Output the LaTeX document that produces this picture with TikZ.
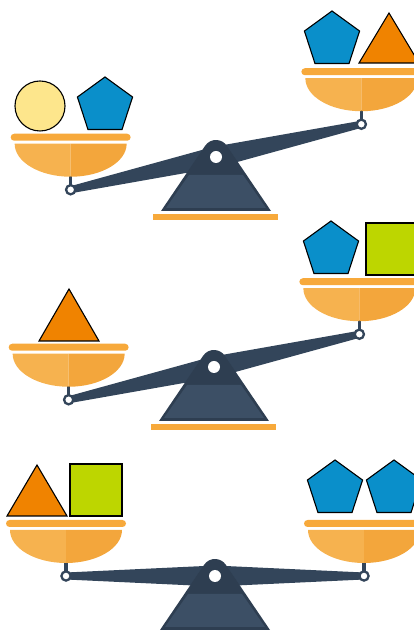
\documentclass[tikz,border=0pt]{standalone}
\usetikzlibrary{shapes.geometric}
\definecolor{slate}{HTML}{33455A}
\definecolor{slatedark}{HTML}{2E3E51}
\definecolor{slatelight}{HTML}{3C4F65}
\definecolor{rimorange}{HTML}{F7A93B}
\definecolor{bowlL}{HTML}{F6B24F}
\definecolor{bowlR}{HTML}{F3A63C}
\definecolor{pentblue}{HTML}{0A8FCA}
\definecolor{triorange}{HTML}{F08300}
\definecolor{sqgreen}{HTML}{BDD600}
\definecolor{circyellow}{HTML}{FDE68C}
\tikzset{
  shapeline/.style={draw=black, line width=1.1pt, line join=miter},
  pent/.style={regular polygon, regular polygon sides=5, minimum size=58pt, inner sep=0pt, outer sep=0pt, shapeline, fill=pentblue},
  pan/.pic={
    \draw[slate, line width=3.5pt] (0,0) -- (0,14);
    \fill[bowlL] (-56pt,46pt) arc[start angle=180, end angle=270, x radius=56pt, y radius=33pt] -- (0,46) -- cycle;
    \fill[bowlR] (0,13) arc[start angle=270, end angle=360, x radius=56pt, y radius=33pt] -- (0,46) -- cycle;
    \fill[rimorange, rounded corners=3.5pt] (-60,49) rectangle (60,56);
    \draw[slate, fill=white, line width=2.3pt] (0,0) circle (4.6pt);
  }
}
\newcommand\drawbalance[4]{%
  \begin{scope}[shift={(#1,#2)}]
    \fill[slate, rotate=#3] (-149,-3.5) -- (0,-10.5) -- (149,-3.5) -- (149,3.5) -- (0,10.5) -- (-149,3.5) -- cycle;
    \fill[slatedark] (-55,-54) -- (-10.8,11.3) arc[start angle=145.9, end angle=34.1, radius=13pt] -- (55,-54) -- cycle;
    \fill[slatelight] (-50,-51) -- (50,-51) -- (27,-18) -- (-27,-18) -- cycle;
    \fill[rimorange] (-63,-57) rectangle (62,-63);
    \coordinate (#4P) at (0,0);
    \coordinate (#4L) at (180+#3:149pt);
    \coordinate (#4R) at (#3:149pt);
    \fill[white] (#4P) circle (6pt);
  \end{scope}
  \pic at (#4L) {pan};
  \pic at (#4R) {pan};
}
\begin{document}
\begin{tikzpicture}[x=1pt, y=1pt]
\useasboundingbox (0,0) rectangle (414,632);
\clip (0,0) rectangle (414,632);

% ---------- balance 1 ----------
\drawbalance{216}{475}{12.7}{a}
\draw[shapeline, fill=circyellow] (40,526) circle (25pt);
\node[pent] (a1) at (105,526) {};
\node[pent] (a2) at (332,592) {};
\draw[shapeline, fill=triorange] (359,569) -- (419,569) -- (389,619) -- cycle;

% ---------- balance 2 ----------
\drawbalance{214}{265}{12.7}{b}
\draw[shapeline, fill=triorange] (39,291) -- (99,291) -- (69,343) -- cycle;
\node[pent] (b1) at (331,382) {};
\draw[shapeline, fill=sqgreen] (366,357) rectangle (418,409);

% ---------- balance 3 ----------
\drawbalance{215}{56}{0}{c}
\draw[shapeline, fill=triorange] (7,116) -- (67,116) -- (37,167) -- cycle;
\draw[shapeline, fill=sqgreen] (70,116) rectangle (122,168);
\node[pent] (c1) at (335,143) {};
\node[pent] (c2) at (394,143) {};
\end{tikzpicture}
\end{document}
